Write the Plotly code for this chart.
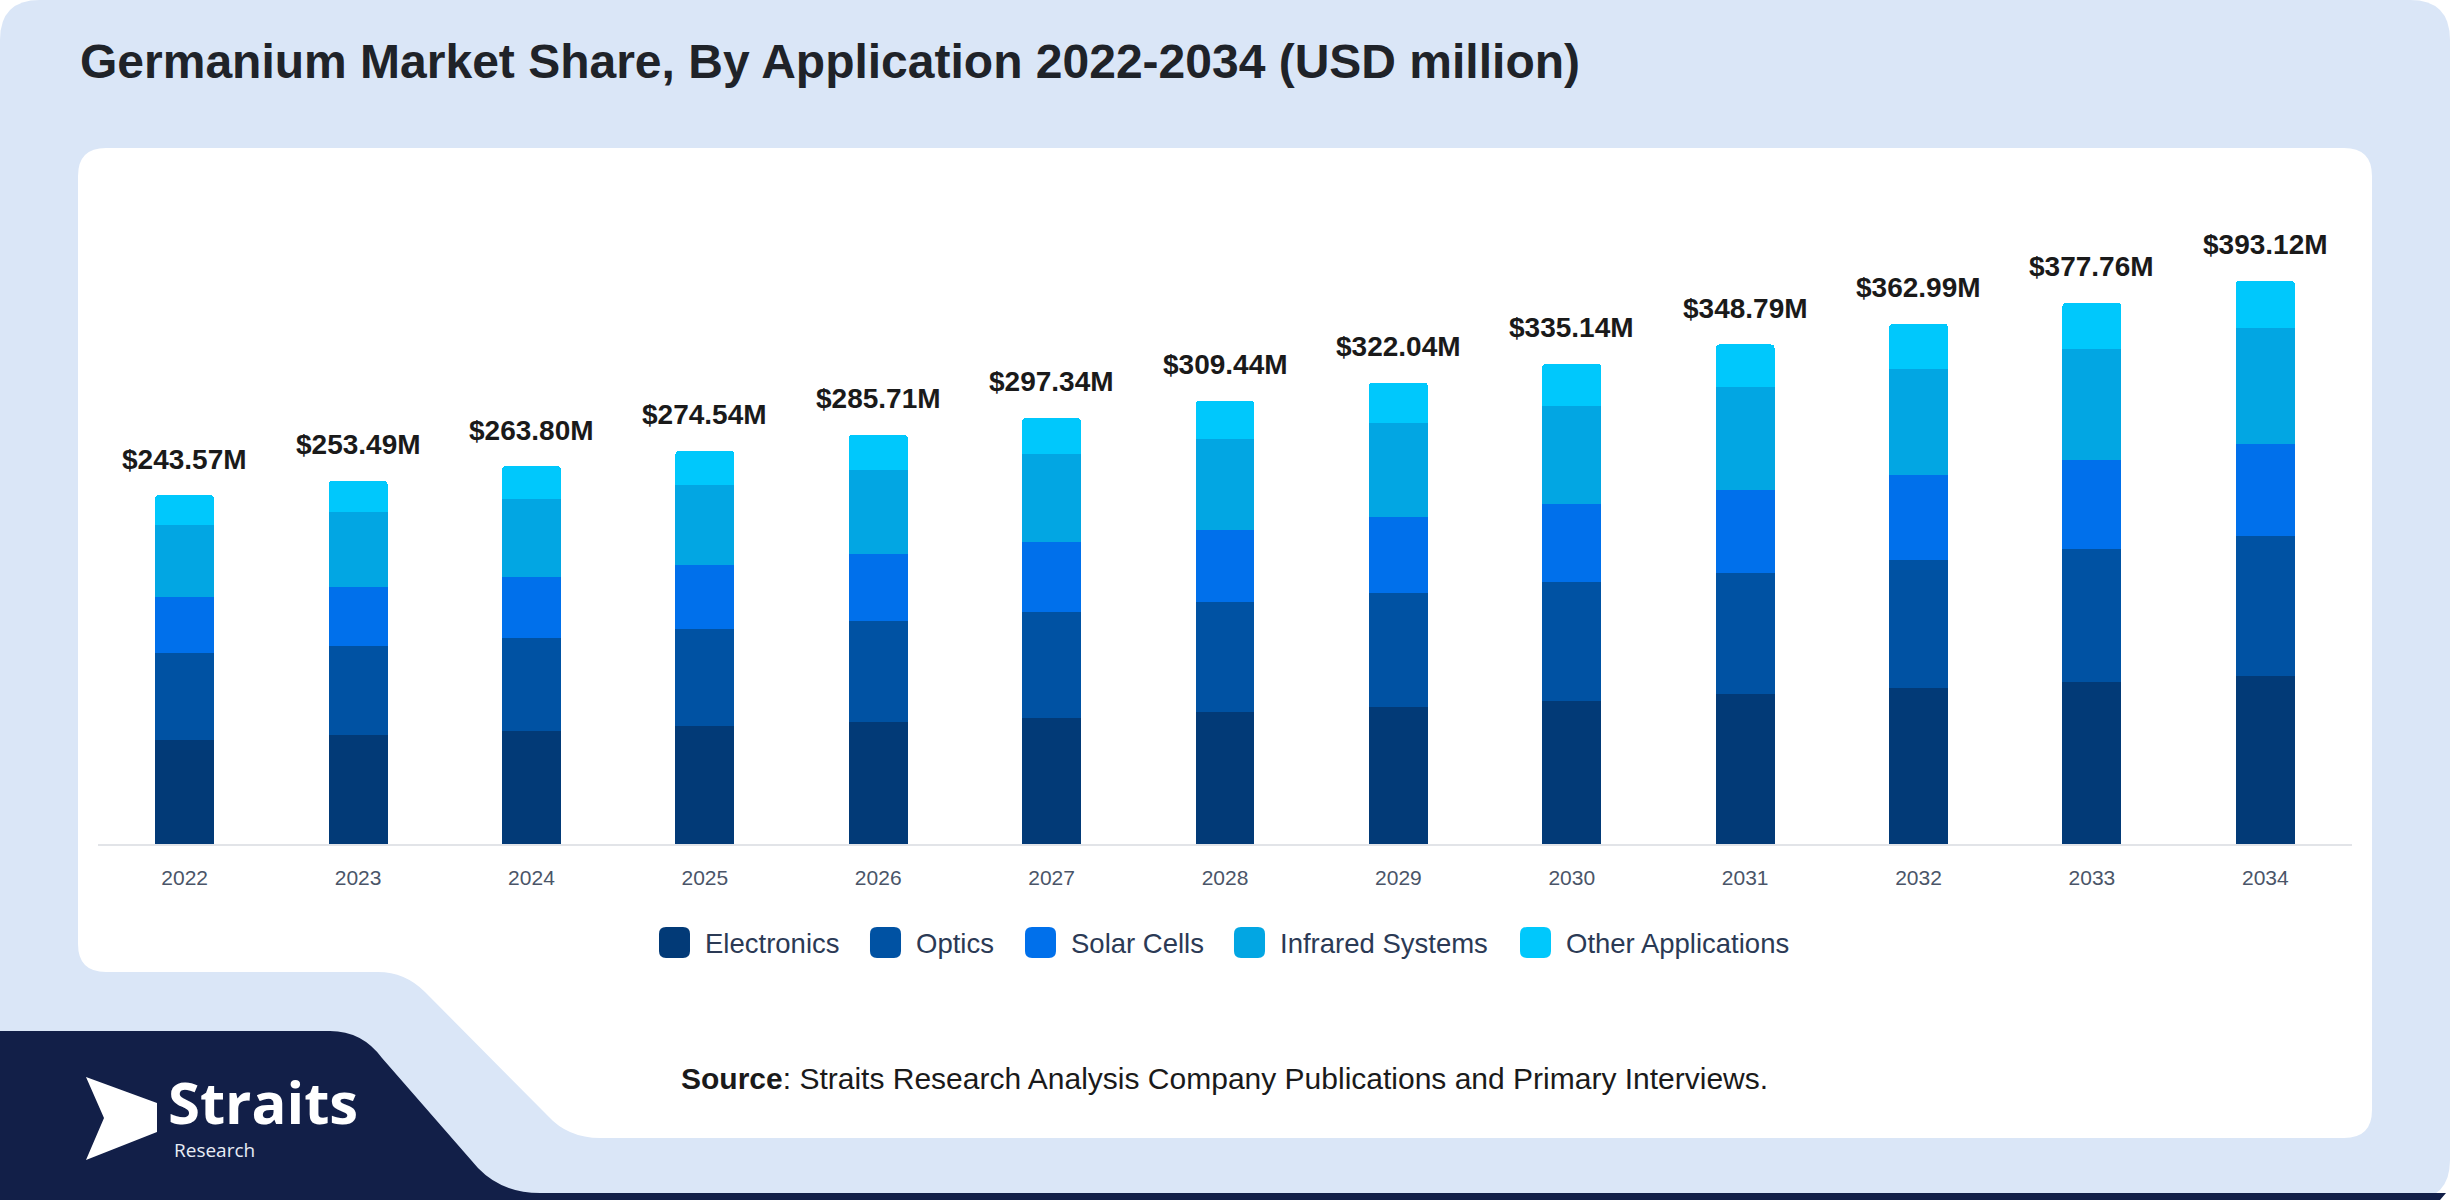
import plotly.graph_objects as go

# data (USD million)
years = ['2022', '2023', '2024', '2025', '2026', '2027', '2028',
         '2029', '2030', '2031', '2032', '2033', '2034']
electronics = [72.5, 75.8, 78.6, 82.6, 85.4, 88.2, 92.1, 95.9, 99.6, 104.5, 108.6, 113.2, 117.5]
optics = [60.7, 62.6, 65.3, 67.2, 70.3, 73.4, 76.5, 79.6, 83.0, 85.0, 89.5, 92.9, 97.5]
solar_cells = [39.5, 41.2, 42.8, 44.9, 46.8, 48.9, 50.3, 52.9, 54.8, 57.6, 59.7, 62.2, 63.9]
infrared = [49.7, 52.3, 54.4, 56.1, 58.8, 61.9, 63.6, 65.5, 68.5, 72.2, 73.8, 77.5, 81.4]
other_apps = [21.2, 21.6, 22.8, 23.7, 24.4, 24.9, 27.0, 28.1, 29.3, 29.4, 31.5, 31.9, 32.8]
totals = [243.57, 253.49, 263.80, 274.54, 285.71, 297.34, 309.44,
          322.04, 335.14, 348.79, 362.99, 377.76, 393.12]

series = [
    ('Electronics', electronics, '#023a77'),
    ('Optics', optics, '#0052a3'),
    ('Solar Cells', solar_cells, '#0070eb'),
    ('Infrared Systems', infrared, '#02a6e3'),
    ('Other Applications', other_apps, '#00c8fc'),
]

W, H = 2450, 1200


def px(x):
    return x / W


def py(y):
    return 1 - y / H


def path(cmds):
    # cmds: list of (letter, [x, y, ...]) in pixel coords -> paper path
    out = []
    for c, pts in cmds:
        if c == 'Z':
            out.append('Z')
            continue
        coords = []
        for i in range(0, len(pts), 2):
            coords.append('%.5f,%.5f' % (px(pts[i]), py(pts[i + 1])))
        out.append(c + ' ' + ' '.join(coords))
    return ' '.join(out)


def rounded_rect(x0, y0, x1, y1, r):
    return path([
        ('M', [x0 + r, y0]), ('L', [x1 - r, y0]), ('Q', [x1, y0, x1, y0 + r]),
        ('L', [x1, y1 - r]), ('Q', [x1, y1, x1 - r, y1]),
        ('L', [x0 + r, y1]), ('Q', [x0, y1, x0, y1 - r]),
        ('L', [x0, y0 + r]), ('Q', [x0, y0, x0 + r, y0]), ('Z', []),
    ])


def pshape(p, fill, layer='below'):
    return dict(type='path', path=p, xref='paper', yref='paper',
                fillcolor=fill, line_width=0, layer=layer)


fig = go.Figure()

for name, vals, col in series:
    fig.add_trace(go.Bar(x=years, y=vals, name=name, marker_color=col,
                         marker_line_width=0, showlegend=False,
                         hovertemplate='%{x}: %{y}<extra>' + name + '</extra>'))

shapes = []
# page background
shapes.append(pshape(rounded_rect(0, 0, W, H, 40), '#dae6f7'))
# white card with slanted bottom-left notch
card = path([
    ('M', [106, 148]), ('L', [2344, 148]), ('Q', [2372, 148, 2372, 176]),
    ('L', [2372, 1110]), ('Q', [2372, 1138, 2344, 1138]),
    ('L', [600, 1138]), ('Q', [568, 1138, 548, 1116]),
    ('L', [425, 992]), ('Q', [405, 972, 378, 972]),
    ('L', [106, 972]), ('Q', [78, 972, 78, 944]),
    ('L', [78, 176]), ('Q', [78, 148, 106, 148]), ('Z', []),
])
shapes.append(pshape(card, 'white'))
# navy footer band
navy = path([
    ('M', [0, 1031]), ('L', [330, 1031]), ('Q', [362, 1031, 382, 1058]),
    ('L', [478, 1168]), ('Q', [502, 1193, 540, 1193]),
    ('L', [2446, 1193]), ('L', [2440, 1200]), ('L', [0, 1200]), ('Z', []),
])
shapes.append(pshape(navy, '#121f48'))
# logo arrow
arrow = path([
    ('M', [86, 1077]), ('L', [157, 1103]), ('L', [157, 1132]), ('L', [86, 1160]),
    ('L', [104, 1118]), ('Z', []),
])
shapes.append(pshape(arrow, 'white'))

annotations = []
annotations.append(dict(x=px(78), y=py(62), xref='paper', yref='paper',
                        xanchor='left', yanchor='middle', showarrow=False,
                        text='<b>Germanium Market Share, By Application 2022-2034 (USD million)</b>',
                        font=dict(family='Liberation Sans, Arial', size=48, color='#1f2329')))

# total labels above each stack (x given as category index)
for i, tot in enumerate(totals):
    annotations.append(dict(x=i, y=tot, xref='x', yref='y', showarrow=False,
                            yanchor='middle', yshift=36,
                            text='<b>$%.2fM</b>' % tot,
                            font=dict(family='Liberation Sans, Arial', size=28, color='#1a1a1a')))

# legend drawn by hand so the swatches can be large rounded squares
legend_x = [659, 870, 1025, 1234, 1520]
for (name, vals, col), lx in zip(series, legend_x):
    shapes.append(pshape(rounded_rect(lx, 927, lx + 31, 958, 7), col, layer='above'))
    annotations.append(dict(x=px(lx + 44), y=py(943), xref='paper', yref='paper',
                            xanchor='left', yanchor='middle', showarrow=False, text=name,
                            font=dict(family='Liberation Sans, Arial', size=27.5, color='#2b3a55')))

annotations.append(dict(x=px(1224), y=py(1078), xref='paper', yref='paper',
                        xanchor='center', yanchor='middle', showarrow=False,
                        text='<b>Source</b>: Straits Research Analysis Company Publications and Primary Interviews.',
                        font=dict(family='Liberation Sans, Arial', size=30, color='#1a1a1a')))

annotations.append(dict(x=px(166), y=py(1101), xref='paper', yref='paper',
                        xanchor='left', yanchor='middle', showarrow=False, text='<b>Straits</b>',
                        font=dict(family='Open Sans', size=58, color='white')))
annotations.append(dict(x=px(172), y=py(1150), xref='paper', yref='paper',
                        xanchor='left', yanchor='middle', showarrow=False, text='Research',
                        font=dict(family='Open Sans', size=19, color='#e8ecf5')))

fig.update_layout(
    width=W, height=H,
    margin=dict(l=0, r=0, t=0, b=0),
    paper_bgcolor='white', plot_bgcolor='rgba(0,0,0,0)',
    barmode='stack', bargap=0.66, barcornerradius=4,
    shapes=shapes, annotations=annotations,
    showlegend=False,
    font=dict(family='Liberation Sans, Arial'),
    xaxis=dict(domain=[px(98), px(2352)], type='category', range=[-0.5, 12.5],
               showgrid=False, showline=True, linecolor='#e2e4e8', linewidth=2,
               zeroline=False, ticks='', ticklabelstandoff=14,
               tickfont=dict(family='Liberation Sans, Arial', size=21, color='#4a5568')),
    yaxis=dict(domain=[py(844), py(200)], range=[0, 449.5], visible=False,
               showgrid=False, zeroline=False),
)

fig.write_html("out.html", config={'displayModeBar': False},
               post_script="document.body.style.margin='0px';")
